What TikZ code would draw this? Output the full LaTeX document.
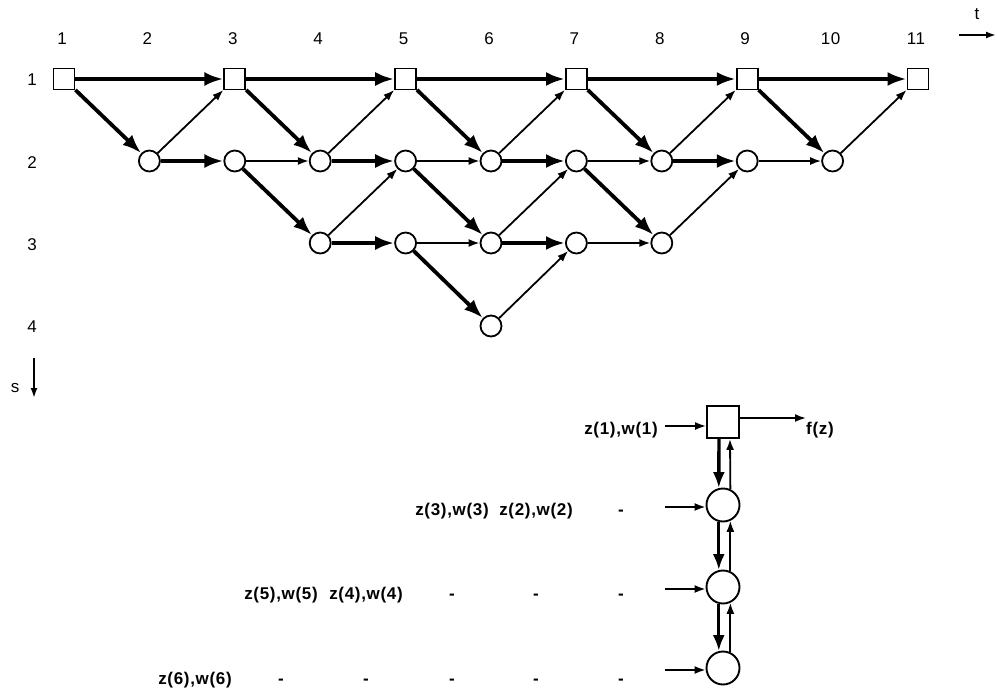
\documentclass[tikz,border=0pt]{standalone}
\usepackage{fontspec}
\setmainfont{Liberation Sans}
\newfontfamily\labfont[LetterSpace=4]{Liberation Sans}
\usetikzlibrary{arrows.meta}
\tikzset{
 sq/.style={draw, line width=1.8pt, minimum size=21pt, inner sep=0pt, fill=white},
 cir/.style={draw, circle, line width=1.8pt, minimum size=21pt, inner sep=0pt},
 sqbig/.style={draw, line width=1.9pt, minimum size=32pt, inner sep=0pt},
 cirbig/.style={draw, circle, line width=1.9pt, minimum size=33pt, inner sep=0pt},
 thk/.style={line width=3.8pt, -{Latex[length=19pt,width=14pt]}},
 thn/.style={line width=1.8pt, -{Latex[length=11pt,width=8pt]}},
 thkb/.style={line width=3.4pt, -{Latex[length=16pt,width=12pt]}},
 axisarrow/.style={line width=1.8pt, -{Latex[length=10pt,width=7pt]}},
 lab/.style={font=\labfont\fontsize{17}{19}\selectfont, inner sep=0pt},
 blab/.style={font=\labfont\bfseries\fontsize{17}{19}\selectfont, inner sep=0pt, anchor=base},
}
\begin{document}
\begin{tikzpicture}[x=1pt,y=-1pt]
\useasboundingbox (0,0) rectangle (997,691);
% column labels
\foreach \k in {1,...,11} \node[lab] (col\k) at ({62+85.4*(\k-1)},39) {\k};
% row labels
\foreach \s/\y in {1/80,2/163,3/245,4/327} \node[lab] (row\s) at (32,\y) {\s};
% axes
\node[lab] (tlab) at (977,14) {t};
\coordinate (t0) at (959,35);
\coordinate (t1) at (996,35);
\draw[axisarrow] (t0) -- (t1);
\node[lab] (slab) at (15,388) {s};
\coordinate (s0) at (34,358);
\coordinate (s1) at (34,398);
\draw[axisarrow] (s0) -- (s1);
% lattice nodes
\foreach \k in {1,3,5,7,9,11} \node[sq] (n1-\k) at ({64+85.4*(\k-1)},79) {};
\foreach \k in {2,...,10} \node[cir] (n2-\k) at ({64+85.4*(\k-1)},161) {};
\foreach \k in {4,...,8} \node[cir] (n3-\k) at ({64+85.4*(\k-1)},243) {};
\node[cir] (n4-6) at ({64+85.4*5},326) {};
% thick edges
\foreach \a/\b in {n1-1/n1-3,n1-3/n1-5,n1-5/n1-7,n1-7/n1-9,n1-9/n1-11,
  n1-1/n2-2,n1-3/n2-4,n1-5/n2-6,n1-7/n2-8,n1-9/n2-10,
  n2-2/n2-3,n2-4/n2-5,n2-6/n2-7,n2-8/n2-9,
  n2-3/n3-4,n2-5/n3-6,n2-7/n3-8,
  n3-4/n3-5,n3-6/n3-7,n3-5/n4-6}
  \draw[thk] (\a) -- (\b);
% thin edges
\foreach \a/\b in {n2-2/n1-3,n2-4/n1-5,n2-6/n1-7,n2-8/n1-9,n2-10/n1-11,
  n2-3/n2-4,n2-5/n2-6,n2-7/n2-8,n2-9/n2-10,
  n3-4/n2-5,n3-6/n2-7,n3-8/n2-9,
  n3-5/n3-6,n3-7/n3-8,n4-6/n3-7}
  \draw[thn] (\a) -- (\b);
% bottom chain
\node[sqbig] (B1) at (723,422) {};
\node[cirbig] (B2) at (723,505) {};
\node[cirbig] (B3) at (723,587) {};
\node[cirbig] (B4) at (723,668) {};
\draw[thkb] ([xshift=-4pt]B1.south) -- (B2.104);
\draw[thn] (B2.65) -- ([xshift=7pt]B1.south);
\draw[thkb] (B2.256) -- (B3.104);
\draw[thn] (B3.65) -- (B2.295);
\draw[thkb] (B3.256) -- (B4.104);
\draw[thn] (B4.65) -- (B3.295);
% output
\node[blab, anchor=base west] (fz) at (806,434) {f(z)};
\draw[thn] ([yshift=4pt]B1.east) -- ([yshift=4pt]B1.east -| fz.west);
% inputs
\coordinate (in1) at (665,426);
\coordinate (in2) at (665,507);
\coordinate (in3) at (665,589);
\coordinate (in4) at (665,670);
\draw[thn] (in1) -- (in1 -| B1.west);
\draw[thn] (in2) -- (in2 -| B2.west);
\draw[thn] (in3) -- (in3 -| B3.west);
\draw[thn] (in4) -- (in4 -| B4.west);
% input texts
\node[blab] (z1) at (621,434) {z(1),w(1)};
\node[blab] (z3) at (452,515) {z(3),w(3)};
\node[blab] (z2) at (536,515) {z(2),w(2)};
\node[blab] (d21) at (621,515) {-};
\node[blab] (z5) at (281,599) {z(5),w(5)};
\node[blab] (z4) at (366,599) {z(4),w(4)};
\foreach \x [count=\i] in {452,536,621} \node[blab] (d3\i) at (\x,599) {-};
\node[blab] (z6) at (195,684) {z(6),w(6)};
\foreach \x [count=\i] in {281,366,452,536,621} \node[blab] (d4\i) at (\x,684) {-};
\end{tikzpicture}
\end{document}
